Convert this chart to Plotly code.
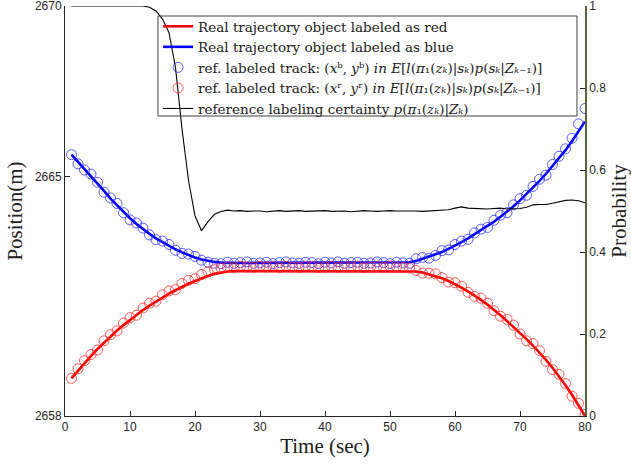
import plotly.graph_objects as go

# Time axis (seconds), one sample per second
time_s = list(range(1, 81))

# Ground-truth trajectory of the object labeled as blue (m)
blue_true = [
    2665.65, 2665.44, 2665.23, 2665.03, 2664.82, 2664.59, 2664.36, 2664.16, 2663.97, 2663.79,
    2663.62, 2663.47, 2663.33, 2663.20, 2663.09, 2662.98, 2662.88, 2662.79, 2662.71, 2662.64,
    2662.58, 2662.54, 2662.51, 2662.49, 2662.48, 2662.48, 2662.48, 2662.48, 2662.48, 2662.48,
    2662.48, 2662.48, 2662.48, 2662.48, 2662.48, 2662.48, 2662.48, 2662.48, 2662.48, 2662.48,
    2662.48, 2662.48, 2662.48, 2662.48, 2662.48, 2662.48, 2662.48, 2662.48, 2662.48, 2662.48,
    2662.48, 2662.48, 2662.50, 2662.54, 2662.60, 2662.66, 2662.73, 2662.80, 2662.89, 2662.98,
    2663.09, 2663.20, 2663.32, 2663.44, 2663.56, 2663.69, 2663.83, 2663.98, 2664.14, 2664.31,
    2664.49, 2664.68, 2664.88, 2665.09, 2665.31, 2665.54, 2665.78, 2666.04, 2666.32, 2666.62,
]

# Ground-truth trajectory of the object labeled as red (m)
red_true = [
    2659.10, 2659.33, 2659.55, 2659.76, 2659.96, 2660.15, 2660.33, 2660.50, 2660.66, 2660.81,
    2660.96, 2661.10, 2661.23, 2661.35, 2661.47, 2661.58, 2661.68, 2661.78, 2661.87, 2661.95,
    2662.03, 2662.10, 2662.16, 2662.20, 2662.23, 2662.24, 2662.24, 2662.24, 2662.24, 2662.24,
    2662.24, 2662.24, 2662.24, 2662.24, 2662.24, 2662.24, 2662.24, 2662.24, 2662.24, 2662.24,
    2662.24, 2662.24, 2662.24, 2662.24, 2662.24, 2662.24, 2662.24, 2662.24, 2662.24, 2662.24,
    2662.24, 2662.24, 2662.24, 2662.23, 2662.20, 2662.15, 2662.10, 2662.03, 2661.95, 2661.86,
    2661.76, 2661.65, 2661.53, 2661.40, 2661.26, 2661.11, 2660.95, 2660.78, 2660.61, 2660.44,
    2660.25, 2660.06, 2659.86, 2659.64, 2659.41, 2659.16, 2658.90, 2658.62, 2658.32, 2658.00,
]

# Reference labeled track (x^b, y^b)
blue_ref = [
    2665.65, 2665.38, 2665.20, 2665.08, 2664.84, 2664.55, 2664.38, 2664.22, 2663.95, 2663.74,
    2663.65, 2663.50, 2663.30, 2663.16, 2663.12, 2663.02, 2662.85, 2662.76, 2662.74, 2662.67,
    2662.56, 2662.50, 2662.47, 2662.46, 2662.50, 2662.47, 2662.49, 2662.51, 2662.47, 2662.48,
    2662.50, 2662.46, 2662.49, 2662.51, 2662.48, 2662.47, 2662.50, 2662.49, 2662.46, 2662.50,
    2662.48, 2662.51, 2662.47, 2662.49, 2662.50, 2662.47, 2662.48, 2662.51, 2662.49, 2662.46,
    2662.50, 2662.48, 2662.47, 2662.60, 2662.64, 2662.62, 2662.70, 2662.84, 2662.86, 2663.02,
    2663.12, 2663.17, 2663.36, 2663.47, 2663.52, 2663.73, 2663.88, 2663.95, 2664.18, 2664.36,
    2664.46, 2664.72, 2664.93, 2665.05, 2665.36, 2665.60, 2665.82, 2666.13, 2666.55, 2667.00,
]

# Reference labeled track (x^r, y^r)
red_ref = [
    2659.10, 2659.38, 2659.62, 2659.80, 2659.93, 2660.20, 2660.38, 2660.49, 2660.72, 2660.88,
    2660.95, 2661.16, 2661.30, 2661.36, 2661.55, 2661.66, 2661.70, 2661.88, 2661.97, 2662.02,
    2662.14, 2662.22, 2662.28, 2662.33, 2662.36, 2662.34, 2662.38, 2662.36, 2662.35, 2662.38,
    2662.36, 2662.37, 2662.34, 2662.38, 2662.36, 2662.35, 2662.38, 2662.37, 2662.34, 2662.36,
    2662.38, 2662.35, 2662.37, 2662.36, 2662.38, 2662.34, 2662.36, 2662.37, 2662.35, 2662.38,
    2662.36, 2662.35, 2662.33, 2662.26, 2662.18, 2662.18, 2662.16, 2662.05, 2661.92, 2661.90,
    2661.80, 2661.62, 2661.50, 2661.45, 2661.30, 2661.08, 2660.92, 2660.83, 2660.66, 2660.40,
    2660.20, 2660.12, 2659.91, 2659.60, 2659.36, 2659.22, 2658.95, 2658.58, 2658.37, 2658.05,
]

# Labeling certainty p(pi_1(z_k) | Z_k)
certainty = [
    1.000, 1.000, 1.000, 1.000, 1.000, 1.000, 1.000, 1.000, 1.000, 1.000,
    1.000, 1.000, 0.997, 0.988, 0.968, 0.935, 0.850, 0.700, 0.575, 0.488,
    0.452, 0.474, 0.492, 0.499, 0.502, 0.500, 0.501, 0.499, 0.500, 0.500,
    0.498, 0.500, 0.501, 0.499, 0.500, 0.501, 0.499, 0.500, 0.500, 0.501,
    0.499, 0.500, 0.500, 0.498, 0.500, 0.501, 0.500, 0.499, 0.500, 0.501,
    0.500, 0.500, 0.501, 0.500, 0.499, 0.500, 0.501, 0.502, 0.503, 0.507,
    0.510, 0.507, 0.506, 0.506, 0.505, 0.506, 0.507, 0.505, 0.506, 0.506,
    0.509, 0.515, 0.516, 0.516, 0.519, 0.522, 0.526, 0.527, 0.525, 0.520,
]

x_ticks = [0, 10, 20, 30, 40, 50, 60, 70, 80]
pos_ticks = [2658, 2665, 2670]
prob_ticks = [0, 0.2, 0.4, 0.6, 0.8, 1]
prob_labels = ["0", "0.2", "0.4", "0.6", "0.8", "1"]

SERIF = "Liberation Serif, Times New Roman, serif"
LEG_SERIF = "DejaVu Serif, serif"
SANS = "Liberation Sans, Arial, sans-serif"
AX = "#262626"

expect = "<i>in E</i>[<i>l</i>(<i>π</i>₁(<i>zₖ</i>)|<i>sₖ</i>)<i>p</i>(<i>sₖ</i>|<i>Zₖ</i>₋₁)]"

fig = go.Figure()
fig.add_trace(go.Scatter(x=time_s, y=red_true, mode="lines",
                         line=dict(color="#ff0000", width=2.6),
                         name="Real trajectory object labeled as red"))
fig.add_trace(go.Scatter(x=time_s, y=blue_true, mode="lines",
                         line=dict(color="#0000ff", width=2.6),
                         name="Real trajectory object labeled as blue"))
fig.add_trace(go.Scatter(x=time_s, y=blue_ref, mode="markers",
                         marker=dict(symbol="circle-open", size=10,
                                     color="rgba(40,40,255,0.75)", line=dict(width=1)),
                         name="ref. labeled track: (<i>x</i>ᵇ, <i>y</i>ᵇ) " + expect))
fig.add_trace(go.Scatter(x=time_s, y=red_ref, mode="markers",
                         marker=dict(symbol="circle-open", size=10,
                                     color="rgba(255,40,40,0.75)", line=dict(width=1)),
                         name="ref. labeled track: (<i>x</i>ʳ, <i>y</i>ʳ) " + expect))
fig.add_trace(go.Scatter(x=time_s, y=certainty, mode="lines", yaxis="y2",
                         line=dict(color="#000000", width=1.1),
                         name="reference labeling certainty <i>p</i>(<i>π</i>₁(<i>zₖ</i>)|<i>Zₖ</i>)"))

# Frame around the legend block
fig.add_shape(type="rect", xref="paper", yref="paper",
              x0=0.1788, x1=0.9846, y0=0.7317, y1=0.9756,
              line=dict(color="#404040", width=1), fillcolor="rgba(0,0,0,0)", layer="above")

fig.update_layout(
    width=631, height=466,
    margin=dict(l=65, r=46, t=6, b=50),
    paper_bgcolor="white", plot_bgcolor="white",
    showlegend=True,
    legend=dict(x=0.179, y=0.9878, xanchor="left", yanchor="top",
                bgcolor="rgba(0,0,0,0)", borderwidth=0,
                font=dict(family=LEG_SERIF, size=13.5, color="#202020"),
                tracegroupgap=0, itemwidth=30),
    xaxis=dict(range=[0, 80], tickvals=x_ticks, ticks="inside", ticklen=5,
               tickcolor=AX, showline=True, linecolor=AX, linewidth=1,
               showgrid=False, zeroline=False, mirror=False, automargin=False,
               ticklabeloverflow="allow",
               tickfont=dict(family=SANS, size=12, color=AX),
               title=dict(text="Time (sec)", font=dict(family=SERIF, size=21, color="#202020"),
                          standoff=4)),
    yaxis=dict(range=[2658, 2670], tickvals=pos_ticks, ticks="inside", ticklen=5,
               tickcolor=AX, showline=True, linecolor=AX, linewidth=1,
               showgrid=False, zeroline=False, ticklabeloverflow="allow", automargin=False,
               tickfont=dict(family=SANS, size=12, color=AX),
               title=dict(text="Position(m)", font=dict(family=SERIF, size=21, color="#202020"),
                          standoff=6)),
    yaxis2=dict(range=[0, 1], tickvals=prob_ticks, ticktext=prob_labels,
                overlaying="y", side="right", ticks="inside", ticklen=5,
                tickcolor=AX, showline=True, linecolor="#56633f", linewidth=1.5,
                showgrid=False, zeroline=False, ticklabeloverflow="allow", automargin=False,
                tickfont=dict(family=SANS, size=12, color=AX),
                title=dict(text="Probability", font=dict(family=SERIF, size=21, color="#202020"),
                           standoff=6)),
)

fig.write_html("out.html")
